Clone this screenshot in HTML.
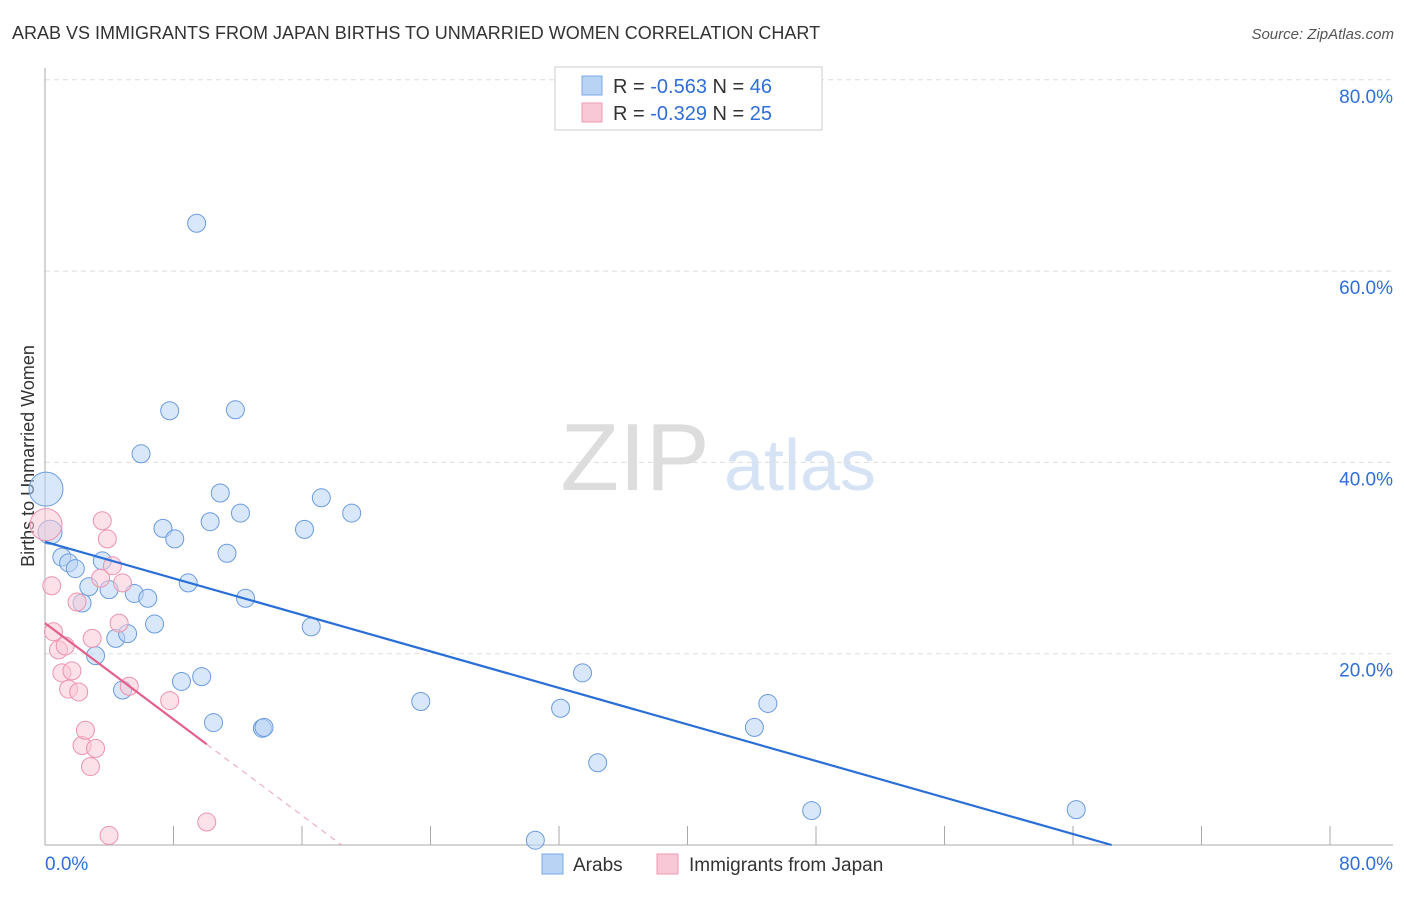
<!DOCTYPE html>
<html><head><meta charset="utf-8"><style>
body{margin:0;background:#fff;font-family:"Liberation Sans",sans-serif;}
svg text{font-family:"Liberation Sans",sans-serif;}
</style></head><body>
<svg id="c" width="1406" height="892" xmlns="http://www.w3.org/2000/svg">
<text x="12" y="39" font-size="18" fill="#333">ARAB VS IMMIGRANTS FROM JAPAN BIRTHS TO UNMARRIED WOMEN CORRELATION CHART</text>
<text x="1394" y="39" font-size="15" fill="#555" font-style="italic" text-anchor="end">Source: ZipAtlas.com</text>
<text x="0" y="0" transform="translate(34,456) rotate(-90)" font-size="18" fill="#333" text-anchor="middle">Births to Unmarried Women</text>
<g><text x="635" y="490" font-size="96" fill="#ddd" font-family="Liberation Serif" text-anchor="middle">ZIP</text><text x="800" y="490" font-size="72" fill="#d5e3f5" text-anchor="middle">atlas</text></g>
<g id="grid"></g><g id="marks"></g>
<g>
<rect x="555" y="67" width="267" height="63" fill="#fff" stroke="#ccc"/>
<rect x="582" y="76" width="20" height="19" fill="#b8d3f4" stroke="#7aa7e3"/>
<rect x="582" y="103" width="20" height="19" fill="#f9c8d6" stroke="#ee9ab3"/>
<text x="613" y="93" font-size="20" fill="#333">R = <tspan fill="#2f6fd8">-0.563</tspan>   N = <tspan fill="#2f6fd8">46</tspan></text>
<text x="613" y="120" font-size="20" fill="#333">R = <tspan fill="#2f6fd8">-0.329</tspan>   N = <tspan fill="#2f6fd8">25</tspan></text>
</g>
<g>
<rect x="542" y="854" width="21" height="20" fill="#b8d3f4" stroke="#7aa7e3"/>
<text x="573" y="871" font-size="19" fill="#333">Arabs</text>
<rect x="657" y="854" width="21" height="20" fill="#f9c8d6" stroke="#ee9ab3"/>
<text x="689" y="871" font-size="19" fill="#333">Immigrants from Japan</text>
</g>
</svg>
<script>
const blueX=[0.06,0.3,1.0,1.4,1.8,2.2,2.6,3.0,3.4,3.8,4.2,4.6,4.9,5.3,5.7,6.1,6.5,7.0,7.4,7.7,8.1,8.5,9.0,9.3,9.8,10.0,10.4,10.8,11.3,11.6,11.9,12.9,13.0,15.4,15.8,16.4,18.2,22.3,29.1,30.6,31.9,32.8,42.1,42.9,45.5,61.2];
const blueY=[37.2,32.7,30.1,29.5,28.9,25.3,27.0,19.8,29.7,26.7,21.6,16.2,22.1,26.3,40.9,25.8,23.1,33.1,45.4,32.0,17.1,27.4,65.0,17.6,33.8,12.8,36.8,30.5,45.5,34.7,25.8,12.2,12.3,33.0,22.8,36.3,34.7,15.0,0.5,14.3,18.0,8.6,12.3,14.8,3.6,3.7];
const pinkX=[0.06,0.4,0.5,0.8,1.0,1.2,1.4,1.6,2.0,1.9,2.2,2.4,2.7,2.8,3.0,3.3,3.4,3.7,3.8,4.0,4.4,4.6,5.0,7.4,9.6];
const pinkY=[33.5,27.1,22.3,20.4,18.0,20.8,16.3,18.2,16.0,25.4,10.4,12.0,8.2,21.6,10.1,27.9,33.9,32.0,1.0,29.2,23.2,27.4,16.6,15.1,2.4];
const yTicks=[20,40,60,80];
const xTickLabels=["0.0%","80.0%"];
const blueTrend=[31.7,-0.4,63.3]; // intercept, slope*?, end x  (y = a + b*x)
const pinkTrend=[23.2,-1.32,9.6,17.6];
const NS="http://www.w3.org/2000/svg";
const X=v=>45+v/80*1348, Y=v=>845-v/20*191.3;
function mk(t,a,p){const e=document.createElementNS(NS,t);for(const k in a)e.setAttribute(k,a[k]);p.appendChild(e);return e;}
const g=document.getElementById('grid'),m=document.getElementById('marks');
yTicks.forEach(t=>{const l=mk('line',{x1:45,x2:1393,y1:Y(t),y2:Y(t),stroke:'#ddd','stroke-dasharray':'5,4'},g);


const tx=mk('text',{x:1393,y:Y(t)+23,'font-size':19,fill:'#2f6fd8','text-anchor':'end'},g);tx.textContent=t.toFixed(1)+'%';

});
mk('line',{x1:45,x2:45,y1:68,y2:845,stroke:'#aaa'},g);
mk('line',{x1:45,x2:1393,y1:845,y2:845,stroke:'#aaa'},g);
for(let i=1;i<=10;i++){const x=45+i*128.5;mk('line',{x1:x,x2:x,y1:826,y2:845,stroke:'#aaa'},g);}
xTickLabels.forEach((s,i)=>{const tx=mk('text',{x:i?1393:45,y:870,'font-size':19,fill:'#2f6fd8','text-anchor':i?'end':'start'},g);tx.textContent=s;

});
function pts(xs,ys,f,s,name){xs.forEach((x,i)=>{const r=i==0?(name=='arab-point'?17:16):(i==1&&name=='arab-point'?12:9);
const c=mk('circle',{cx:X(x),cy:Y(ys[i]),r:r,fill:f,'fill-opacity':0.55,stroke:s,'stroke-width':1},m);

});}
pts(blueX,blueY,'#b8d3f4','#6b9be0','arab-point');
pts(pinkX,pinkY,'#f9c8d6','#ec93ae','japan-point');
const bEnd=-blueTrend[0]/blueTrend[1]*0+ (blueTrend[0]/ -blueTrend[1]*0) + 63.3;
const bl=mk('line',{x1:X(0),y1:Y(blueTrend[0]),x2:X(blueTrend[2]),y2:Y(0),stroke:'#2a6fd6','stroke-width':2.2},m);


const pl=mk('line',{x1:X(0),y1:Y(pinkTrend[0]),x2:X(pinkTrend[2]),y2:Y(pinkTrend[0]+pinkTrend[1]*pinkTrend[2]),stroke:'#e4608a','stroke-width':2.2},m);


const pd=mk('line',{x1:X(pinkTrend[2]),y1:Y(pinkTrend[0]+pinkTrend[1]*pinkTrend[2]),x2:X(pinkTrend[3]),y2:Y(0),stroke:'#e4608a','stroke-width':1,'stroke-dasharray':'6,5','stroke-opacity':0.6},m);


</script>
</body></html>
